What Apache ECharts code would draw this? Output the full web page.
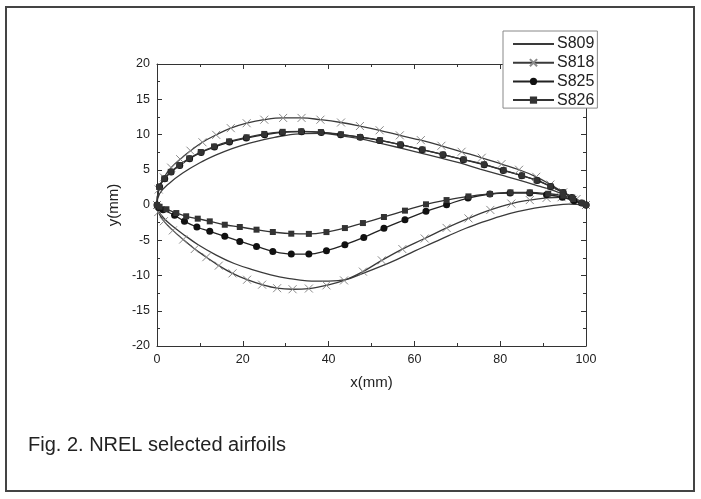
<!DOCTYPE html>
<html>
<head>
<meta charset="utf-8">
<script src="https://cdn.jsdelivr.net/npm/echarts@6/dist/echarts.min.js"></script>
<style>
html,body{margin:0;padding:0;background:#fff;}
#chart{width:701px;height:499px;}
</style>
</head>
<body>
<div id="chart"></div>
<script>
// Axis ticks
const xTicks = [0, 20, 40, 60, 80, 100];
const yTicks = [-20, -15, -10, -5, 0, 5, 10, 15, 20];
const seriesNames = ['S809', 'S818', 'S825', 'S826'];

// Airfoil coordinates [x(mm), y(mm)], from trailing edge along upper surface to leading edge, then lower surface back
const s809 = [
  [100,0],[98,0.45],[95.5,1.3],[92.5,2.05],[89.3,2.64],[84.6,3.5],[79.9,4.3],[75.3,5.1],[70.6,5.96],[66,6.7],
  [61.3,7.38],[56.6,8.1],[51.9,8.79],[47.3,9.4],[42.6,9.85],[38,10.15],[33.3,10.1],[27.4,9.6],[21.6,8.79],
  [17.5,8.0],[13.8,7.1],[9.9,5.96],[6.0,4.54],[2.9,3.1],[0.6,1.6],[0,0],
  [0.4,-0.9],[1.5,-1.8],[3.3,-2.85],[6.0,-4.1],[9.5,-5.6],[13.8,-7.1],[18.0,-8.3],[22.4,-9.2],[26.5,-9.9],
  [30.5,-10.4],[35,-10.75],[40,-10.8],[44.2,-10.55],[48,-9.7],[52,-8.75],[56,-7.7],[60,-6.55],[64,-5.45],
  [68,-4.35],[72,-3.3],[76,-2.4],[80,-1.6],[84,-0.95],[88,-0.45],[92,-0.1],[96,0.12],[100,0]
];
const s818 = [
  [100,0],[97.8,0.85],[94.7,1.8],[91.7,2.9],[88.4,4.0],[84.4,5.0],[80.3,5.8],[75.7,6.7],[71.0,7.55],[66.3,8.4],
  [61.5,9.2],[56.6,9.88],[51.9,10.6],[47.3,11.2],[42.9,11.7],[38.1,12.1],[33.7,12.35],[29.4,12.35],[25.0,12.1],
  [20.9,11.6],[17.2,10.9],[13.8,9.95],[10.6,8.9],[7.8,7.7],[5.4,6.5],[3.3,5.3],[1.6,3.9],[0.4,2.2],[0,0],
  [0.3,-1.0],[1.6,-2.3],[3.7,-3.6],[6.1,-4.9],[8.8,-6.24],[11.5,-7.4],[14.4,-8.6],[17.6,-9.7],[21.0,-10.6],
  [24.5,-11.3],[28.0,-11.8],[31.6,-11.95],[35.4,-11.85],[39.5,-11.4],[43.6,-10.7],[48.0,-9.45],[52.4,-7.85],
  [57.2,-6.25],[62.4,-4.75],[67.5,-3.25],[72.6,-1.9],[77.7,-0.7],[82.6,0.2],[86.9,0.7],[90.8,1.0],[94.3,1.1],
  [97.0,0.75],[100,0]
];
const s825 = [
  [100,0],[99.0,0.28],[96.7,1.08],[94.7,1.79],[91.8,2.64],[88.6,3.49],[85.0,4.16],[80.7,4.91],[76.3,5.72],
  [71.4,6.43],[66.7,7.13],[61.8,7.84],[56.8,8.55],[51.9,9.16],[47.4,9.6],[42.8,9.97],[38.3,10.3],[33.7,10.4],
  [29.2,10.3],[25.1,9.97],[20.8,9.5],[16.9,8.93],[13.4,8.22],[10.3,7.46],[7.6,6.57],[5.3,5.62],[3.3,4.68],
  [1.8,3.73],[0.6,2.6],[0,0],
  [0.4,-0.35],[1.4,-0.67],[4.1,-1.47],[6.4,-2.32],[9.3,-3.12],[12.3,-3.74],[15.8,-4.45],[19.3,-5.16],
  [23.2,-5.87],[27.0,-6.58],[31.3,-6.96],[35.4,-6.96],[39.5,-6.48],[43.8,-5.63],[48.2,-4.6],[52.9,-3.31],
  [57.8,-2.09],[62.7,-0.9],[67.5,0.04],[72.5,0.99],[77.6,1.56],[82.3,1.7],[86.9,1.7],[90.8,1.46],[94.5,1.1],
  [97.2,0.6],[100,0]
];
const s826 = [
  [100,0],[99.0,0.3],[96.8,1.05],[94.6,1.8],[91.7,2.65],[88.5,3.5],[85.1,4.18],[80.8,4.93],[76.2,5.75],
  [71.5,6.45],[66.6,7.15],[61.9,7.86],[56.7,8.58],[52.0,9.18],[47.3,9.64],[42.9,10.02],[38.2,10.35],[33.6,10.45],
  [29.3,10.38],[25.0,10.08],[20.9,9.6],[16.8,9.02],[13.3,8.3],[10.2,7.52],[7.5,6.62],[5.2,5.66],[3.2,4.7],
  [1.7,3.75],[0.5,2.55],[0,0],
  [0.6,-0.25],[2.2,-0.6],[4.5,-1.14],[6.8,-1.6],[9.5,-1.94],[12.3,-2.32],[15.8,-2.8],[19.3,-3.12],[23.2,-3.5],
  [27.0,-3.83],[31.3,-4.07],[35.4,-4.1],[39.5,-3.84],[43.8,-3.27],[48.0,-2.56],[52.9,-1.7],[57.8,-0.8],
  [62.7,0.1],[67.5,0.7],[72.6,1.22],[77.6,1.56],[82.4,1.79],[86.9,1.79],[91.2,1.6],[94.7,1.32],[97.0,0.85],[100,0]
];

const FONT = 'Liberation Sans, Arial, sans-serif';
const axisColor = '#333';

function xAx(pos, show) {
  return {
    type: 'value', position: pos,
    min: xTicks[0], max: xTicks[xTicks.length - 1], interval: xTicks[1] - xTicks[0],
    axisLine: { show: true, onZero: false, lineStyle: { color: axisColor, width: 1 } },
    axisTick: { show: true, inside: true, length: 5, lineStyle: { color: axisColor } },
    minorTick: { show: true, splitNumber: 2, length: 3, lineStyle: { color: axisColor } },
    splitLine: { show: false },
    axisLabel: { show: show, margin: 7, fontSize: 12.5, color: '#222', fontFamily: FONT },
    name: show ? 'x(mm)' : '', nameLocation: 'middle', nameGap: 29,
    nameTextStyle: { fontSize: 15, color: '#222', fontFamily: FONT }
  };
}
function yAx(pos, show) {
  return {
    type: 'value', position: pos,
    min: yTicks[0], max: yTicks[yTicks.length - 1], interval: yTicks[1] - yTicks[0],
    axisLine: { show: true, onZero: false, lineStyle: { color: axisColor, width: 1 } },
    axisTick: { show: true, inside: true, length: 5, lineStyle: { color: axisColor } },
    minorTick: { show: true, splitNumber: 2, length: 3, lineStyle: { color: axisColor } },
    splitLine: { show: false },
    axisLabel: { show: show, margin: 7, fontSize: 12.5, color: '#222', fontFamily: FONT },
    name: show ? 'y(mm)' : '', nameLocation: 'middle', nameGap: 35,
    nameTextStyle: { fontSize: 15, color: '#222', fontFamily: FONT }
  };
}

const lineBase = { type: 'line', smooth: 0.4, xAxisIndex: 0, yAxisIndex: 0, clip: true, animation: false };

const chart = echarts.init(document.getElementById('chart'), null, { renderer: 'canvas' });
chart.setOption({
  backgroundColor: '#fff',
  animation: false,
  grid: { left: 157, right: 115, top: 64, bottom: 153, containLabel: false },
  xAxis: [xAx('bottom', true), xAx('top', false)],
  yAxis: [yAx('left', true), yAx('right', false)],
  legend: {
    data: [
      { name: seriesNames[0], itemStyle: { opacity: 0 } },
      { name: seriesNames[1] },
      { name: seriesNames[2] },
      { name: seriesNames[3] }
    ],
    orient: 'vertical', left: 503, top: 31,
    padding: [5, 3, 0, 9],
    itemWidth: 41, itemHeight: 9, itemGap: 2.7,
    backgroundColor: '#fff', borderColor: '#888', borderWidth: 1, borderRadius: 0,
    textStyle: { fontSize: 16, color: '#222', fontFamily: FONT, padding: [0, 0, 0, -2] }
  },
  graphic: [
    { type: 'rect', shape: { x: 6, y: 7, width: 688, height: 484 }, style: { fill: 'none', stroke: '#444', lineWidth: 2 }, silent: true },
    { type: 'text', left: 28, top: 435, style: { text: 'Fig. 2. NREL selected airfoils', fontSize: 20, fill: '#222', fontFamily: FONT } }
  ],
  series: [
    Object.assign({}, lineBase, {
      name: seriesNames[0], data: s809, symbol: 'none', showSymbol: false,
      lineStyle: { color: '#3a3a3a', width: 1.3 }, itemStyle: { color: '#3a3a3a' }
    }),
    Object.assign({}, lineBase, {
      name: seriesNames[1], data: s818, symbol: 'path://M0,0L10,10M10,0L0,10', symbolSize: 8,
      lineStyle: { color: '#3a3a3a', width: 1.3 },
      itemStyle: { color: 'rgba(0,0,0,0)', borderColor: '#8a8a8a', borderWidth: 1 }
    }),
    Object.assign({}, lineBase, {
      name: seriesNames[2], data: s825, symbol: 'circle', symbolSize: 7,
      lineStyle: { color: '#222', width: 1.3 }, itemStyle: { color: '#111' }
    }),
    Object.assign({}, lineBase, {
      name: seriesNames[3], data: s826, symbol: 'rect', symbolSize: 6,
      lineStyle: { color: '#333', width: 1.3 }, itemStyle: { color: '#333' }
    })
  ]
});
</script>
</body>
</html>
